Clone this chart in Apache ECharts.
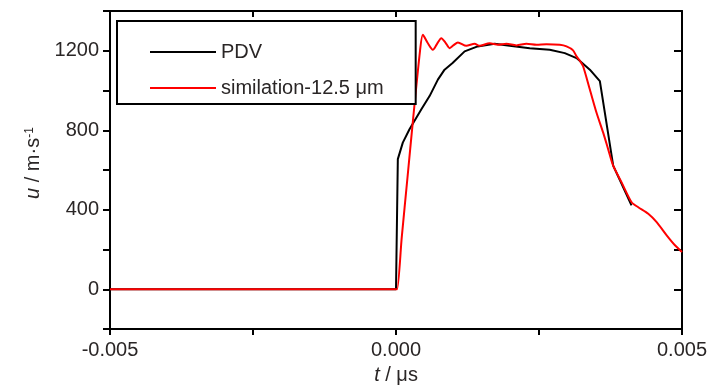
<!DOCTYPE html>
<html>
<head>
<meta charset="utf-8">
<script src="https://cdn.jsdelivr.net/npm/echarts@6/dist/echarts.min.js"></script>
<style>html,body{margin:0;padding:0;background:#fff;}#c{width:726px;height:390px;}</style>
</head>
<body>
<div id="c"></div>
<script>
// Data (time in the axis units, velocity in m/s)
const pdvT = [-0.005, 0.0, 0.00001, 0.000032, 0.000119, 0.000236, 0.000441, 0.000587, 0.000732, 0.000849, 0.000989, 0.0012, 0.001427, 0.001725, 0.001988, 0.002338, 0.002688, 0.002951, 0.003156, 0.003389, 0.003564, 0.003651, 0.003797, 0.004117];
const pdvU = [0, 0, 0, 655, 738, 805, 905, 972, 1055, 1105, 1138, 1197, 1222, 1235, 1225, 1213, 1205, 1188, 1163, 1105, 1047, 889, 622, 422];
const simT = [-0.005, 0.0, 0.00002, 0.0001, 0.0002, 0.0003, 0.00042, 0.000469, 0.000552, 0.000644, 0.000718, 0.000792, 0.000867, 0.000937, 0.001007, 0.001082, 0.001229, 0.001375, 0.001462, 0.001637, 0.001783, 0.00193, 0.002105, 0.00228, 0.002455, 0.00263, 0.002863, 0.002981, 0.003096, 0.003156, 0.003214, 0.003271, 0.003389, 0.003506, 0.003622, 0.003709, 0.003797, 0.003944, 0.004119, 0.004235, 0.00441, 0.004557, 0.004732, 0.004877, 0.005];
const simU = [0, 0, 0, 260, 560, 860, 1200, 1280, 1240, 1205, 1235, 1263, 1240, 1213, 1228, 1242, 1225, 1235, 1225, 1238, 1230, 1235, 1227, 1235, 1230, 1233, 1230, 1222, 1202, 1172, 1150, 1122, 1005, 888, 788, 705, 622, 538, 438, 413, 380, 338, 272, 222, 188];
const seriesNames = ['PDV', 'similation-12.5 μm'];
const xTickLabels = ['-0.005', '0.000', '0.005'];
const yTickLabels = ['0', '400', '800', '1200'];

const FONT = '"Liberation Sans", Arial, sans-serif';
const FS = 20;
const TXT = '#2a2626';

function zip(a, b) { return a.map((v, i) => [v, b[i]]); }

const chart = echarts.init(document.getElementById('c'));
const axisLine = { show: true, onZero: false, lineStyle: { color: '#000', width: 2 } };
const tickStyle = { color: '#000', width: 2 };

const option = {
  animation: false,
  backgroundColor: '#fff',
  grid: { left: 110, right: 44, top: 11, bottom: 59, containLabel: false },
  legend: {
    data: seriesNames,
    orient: 'vertical', left: 117, top: 21,
    backgroundColor: '#fff', borderColor: '#000', borderWidth: 2, borderRadius: 0,
    padding: [20, 32, 5, 33],
    itemWidth: 66, itemHeight: 2, itemGap: 14,
    icon: 'rect',
    textStyle: { fontFamily: FONT, fontSize: FS, color: TXT, lineHeight: 22 }
  },
  xAxis: [
    {
      type: 'value', position: 'bottom', min: -0.005, max: 0.005, interval: 0.0025,
      axisLine: axisLine, axisTick: { show: true, inside: false, length: 6, lineStyle: tickStyle },
      splitLine: { show: false },
      axisLabel: {
        margin: 11, fontFamily: FONT, fontSize: FS, color: TXT,
        formatter: function (v) {
          const k = Math.round(v / 0.0025);
          if (k % 2 !== 0) return '';
          return xTickLabels[k / 2 + 1];
        }
      },
      name: '{i|t} / μs', nameLocation: 'middle', nameGap: 35,
      nameTextStyle: { fontFamily: FONT, fontSize: FS, color: TXT, rich: { i: { fontFamily: FONT, fontSize: FS, color: TXT, fontStyle: 'italic' } } }
    },
    {
      type: 'value', position: 'top', min: -0.005, max: 0.005, interval: 0.0025,
      axisLine: axisLine, axisTick: { show: true, inside: true, length: 6, lineStyle: tickStyle },
      axisLabel: { show: false }, splitLine: { show: false }
    }
  ],
  yAxis: [
    {
      type: 'value', position: 'left', min: -200, max: 1400, interval: 200,
      axisLine: axisLine, axisTick: { show: true, inside: false, length: 7, lineStyle: tickStyle },
      splitLine: { show: false },
      axisLabel: {
        margin: 11, fontFamily: FONT, fontSize: FS, color: TXT,
        formatter: function (v) {
          const k = Math.round(v / 400);
          if (Math.abs(v - k * 400) > 1e-6 || k < 0 || k > 3) return '';
          return yTickLabels[k];
        }
      },
      name: '{i|u} / m·s{sup|-1}', nameLocation: 'middle', nameGap: 64,
      nameTextStyle: {
        fontFamily: FONT, fontSize: FS, color: TXT, padding: [0, 0, 0, 14],
        rich: {
          i: { fontFamily: FONT, fontSize: FS, color: TXT, fontStyle: 'italic' },
          sup: { fontFamily: FONT, fontSize: 12, color: TXT, verticalAlign: 'top' }
        }
      }
    },
    {
      type: 'value', position: 'right', min: -200, max: 1400, interval: 200,
      axisLine: axisLine, axisTick: { show: true, inside: true, length: 8, lineStyle: tickStyle },
      axisLabel: { show: false }, splitLine: { show: false }
    }
  ],
  series: [
    {
      name: seriesNames[0], type: 'line', data: zip(pdvT, pdvU),
      xAxisIndex: 0, yAxisIndex: 0, showSymbol: false, smooth: false,
      lineStyle: { color: '#000', width: 2 }, itemStyle: { color: '#000' }, z: 3
    },
    {
      name: seriesNames[1], type: 'line', data: zip(simT, simU),
      xAxisIndex: 0, yAxisIndex: 0, showSymbol: false, smooth: 0.25,
      lineStyle: { color: '#ff0000', width: 2 }, itemStyle: { color: '#ff0000' }, z: 3
    }
  ]
};
chart.setOption(option);
</script>
</body>
</html>
